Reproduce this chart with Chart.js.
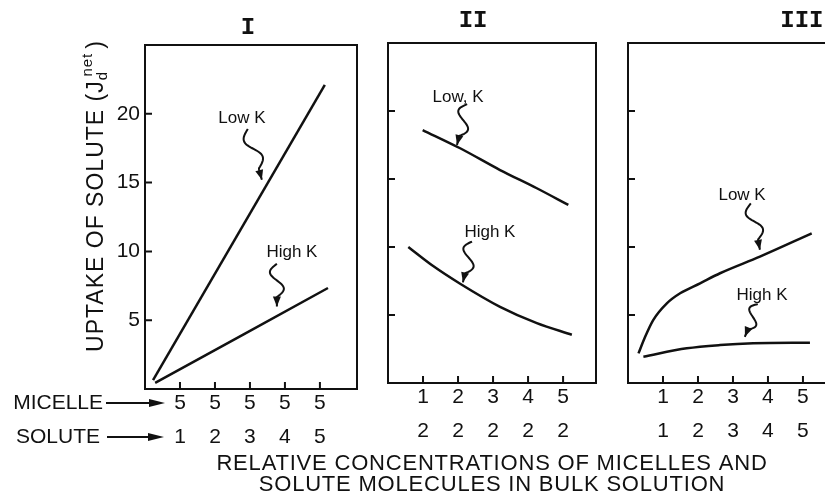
<!DOCTYPE html>
<html>
<head>
<meta charset="utf-8">
<script src="https://cdn.jsdelivr.net/npm/chart.js@4.4.1/dist/chart.umd.min.js"></script>
<style>
  html, body { margin: 0; padding: 0; background: #fff; }
  #wrap { position: relative; width: 825px; height: 495px; overflow: hidden; }
  #wrap canvas { position: absolute; left: 0; top: 0; }
</style>
</head>
<body>
<div id="wrap">
  <canvas id="panel1" width="825" height="495"></canvas>
  <canvas id="panel2" width="825" height="495"></canvas>
  <canvas id="panel3" width="825" height="495"></canvas>
</div>
<script>
// tick positions
const ticksX = [1, 2, 3, 4, 5];
const ticksY = [5, 10, 15, 20];

// two rows of x labels under each panel: micelle (top), solute (bottom)
const micelle1 = [5, 5, 5, 5, 5];
const solute1 = [1, 2, 3, 4, 5];
const micelle2 = [1, 2, 3, 4, 5];
const solute2 = [2, 2, 2, 2, 2];
const micelle3 = [1, 2, 3, 4, 5];
const solute3 = [1, 2, 3, 4, 5];

// panel I
const lowK1x = [0.23, 5.14];
const lowK1y = [0.65, 22.1];
const highK1x = [0.29, 5.23];
const highK1y = [0.44, 7.34];
// panel II
const lowK2x = [0.99, 2.06, 3.2, 4.25, 5.15];
const lowK2y = [18.6, 17.26, 15.66, 14.32, 13.09];
const highK2x = [0.58, 1.29, 2.06, 3.2, 4.25, 5.25];
const highK2y = [10.0, 8.6, 7.3, 5.6, 4.4, 3.55];
// panel III
const lowK3x = [0.30, 0.49, 0.72, 1.11, 1.49, 2.06, 2.63, 3.77, 5.25];
const lowK3y = [2.18, 3.40, 4.63, 5.86, 6.60, 7.33, 8.07, 9.29, 11.0];
const highK3x = [0.44, 1.68, 2.63, 3.58, 5.2];
const highK3y = [1.93, 2.55, 2.79, 2.92, 2.96];

// "Low K" / "High K" notes: label centre and squiggly arrow, in data units
const notes1 = [
  { text: 'Low K', x: 2.77, y: 19.7, from: [2.94, 18.9], to: [3.34, 15.2] },
  { text: 'High K', x: 4.2, y: 9.9, from: [3.77, 9.1], to: [3.77, 6.0] }
];
const notes2 = [
  { text: 'Low, K', x: 2.0, y: 21.0, from: [2.26, 20.5], to: [1.97, 17.5] },
  { text: 'High K', x: 2.91, y: 11.1, from: [2.4, 10.4], to: [2.14, 7.4] }
];
const notes3 = [
  { text: 'Low K', x: 3.26, y: 13.8, from: [3.51, 13.2], to: [3.77, 9.8] },
  { text: 'High K', x: 3.83, y: 6.47, from: [3.71, 5.8], to: [3.34, 3.4] }
];

const INK = '#111';
const SANS = '"Liberation Sans", Arial, sans-serif';
const TICK_PAD = -3;
const ROW_LH = 1.62;
const Y_BOX = 50;

function pts(xs, ys) {
  return xs.map((x, i) => ({ x: x, y: ys[i] }));
}

function squiggle(ctx, x1, y1, x2, y2) {
  const dx = x2 - x1, dy = y2 - y1, L = Math.hypot(dx, dy);
  const ux = dx / L, uy = dy / L, nx = -uy, ny = ux;
  const amp = Math.min(7, L * 0.18);
  ctx.beginPath();
  for (let i = 0; i <= 40; i++) {
    const t = i / 40;
    const w = t < 0.78 ? Math.sin(2 * Math.PI * t / 0.78) * amp : 0;
    const px = x1 + dx * t + nx * w, py = y1 + dy * t + ny * w;
    if (i) ctx.lineTo(px, py); else ctx.moveTo(px, py);
  }
  ctx.stroke();
  const hl = 10, hw = 4;
  ctx.beginPath();
  ctx.moveTo(x2, y2);
  ctx.lineTo(x2 - ux * hl + nx * hw, y2 - uy * hl + ny * hw);
  ctx.lineTo(x2 - ux * hl - nx * hw, y2 - uy * hl - ny * hw);
  ctx.closePath();
  ctx.fill();
}

function arrowRight(ctx, x1, x2, y) {
  ctx.beginPath();
  ctx.moveTo(x1, y);
  ctx.lineTo(x2 - 8, y);
  ctx.stroke();
  ctx.beginPath();
  ctx.moveTo(x2, y);
  ctx.lineTo(x2 - 16, y - 4);
  ctx.lineTo(x2 - 16, y + 4);
  ctx.closePath();
  ctx.fill();
}

function drawYTitle(ctx, cx, cy) {
  const big = '23px ' + SANS, small = '15px ' + SANS;
  ctx.save();
  ctx.translate(cx, cy);
  ctx.rotate(-Math.PI / 2);
  ctx.textAlign = 'left';
  ctx.textBaseline = 'middle';
  ctx.letterSpacing = '1px';
  ctx.font = big;
  const main = 'UPTAKE OF SOLUTE (J';
  const wMain = ctx.measureText(main).width;
  const wClose = ctx.measureText(')').width;
  ctx.font = small;
  const wD = ctx.measureText('d').width;
  const wNet = ctx.measureText('net').width;
  const total = wMain + wD * 0.4 + wNet + 4 + wClose;
  let x = -total / 2;
  ctx.font = big;
  ctx.fillText(main, x, 0);
  x += wMain;
  ctx.font = small;
  ctx.fillText('d', x, 6);
  ctx.fillText('net', x + wD * 0.4, -9);
  x += wD * 0.4 + wNet + 4;
  ctx.font = big;
  ctx.fillText(')', x, 0);
  ctx.restore();
}

function decor(cfg) {
  return {
    id: 'decor',
    afterDraw(chart) {
      const ctx = chart.ctx, a = chart.chartArea;
      const xs = chart.scales.x, ys = chart.scales.y;
      ctx.save();
      ctx.strokeStyle = INK;
      ctx.fillStyle = INK;
      ctx.lineWidth = 2;
      // frame
      ctx.beginPath();
      if (cfg.openRight) {
        ctx.moveTo(a.right + 2, a.top);
        ctx.lineTo(a.left, a.top);
        ctx.lineTo(a.left, a.bottom);
        ctx.lineTo(a.right + 2, a.bottom);
      } else {
        ctx.rect(a.left, a.top, a.right - a.left, a.bottom - a.top);
      }
      ctx.stroke();
      // inward tick marks
      ctx.beginPath();
      xs.ticks.forEach(t => {
        const px = xs.getPixelForValue(t.value);
        ctx.moveTo(px, a.bottom);
        ctx.lineTo(px, a.bottom - 7);
      });
      ys.ticks.forEach(t => {
        const py = ys.getPixelForValue(t.value);
        ctx.moveTo(a.left, py);
        ctx.lineTo(a.left + 7, py);
      });
      ctx.stroke();
      // panel numeral
      ctx.font = 'bold 24px "Liberation Mono", monospace';
      ctx.textAlign = 'center';
      ctx.textBaseline = 'middle';
      ctx.fillText(cfg.title, xs.getPixelForValue(cfg.titleX), a.top - cfg.titleDy);
      // notes
      ctx.font = '17px ' + SANS;
      cfg.notes.forEach(n => {
        ctx.fillText(n.text, xs.getPixelForValue(n.x), ys.getPixelForValue(n.y));
        squiggle(ctx, xs.getPixelForValue(n.from[0]), ys.getPixelForValue(n.from[1]),
          xs.getPixelForValue(n.to[0]), ys.getPixelForValue(n.to[1]));
      });
      if (cfg.rowLabels) {
        const lh = 21 * ROW_LH;
        const r1 = a.bottom + TICK_PAD + lh / 2, r2 = r1 + lh;
        ctx.font = '21px ' + SANS;
        ctx.textAlign = 'right';
        ctx.fillText('MICELLE', 103, r1);
        ctx.fillText('SOLUTE', 100, r2);
        ctx.lineWidth = 2;
        arrowRight(ctx, 106, 165, r1);
        arrowRight(ctx, 107, 164, r2);
        drawYTitle(ctx, 97, 196);
      }
      if (cfg.xTitle) {
        ctx.font = '22px ' + SANS;
        ctx.textAlign = 'center';
        ctx.letterSpacing = '0.8px';
        const cx = (a.left + a.right) / 2;
        ctx.fillText('RELATIVE CONCENTRATIONS OF MICELLES AND', cx, a.bottom + 81);
        ctx.fillText('SOLUTE MOLECULES IN BULK SOLUTION', cx, a.bottom + 102);
      }
      ctx.restore();
    }
  };
}

function makePanel(id, area, xMax, micelle, solute, series, showY, cfg) {
  return new Chart(document.getElementById(id), {
    type: 'line',
    data: {
      datasets: series.map(s => ({
        data: s,
        borderColor: INK,
        borderWidth: 2.5,
        pointRadius: 0,
        tension: 0.4,
        cubicInterpolationMode: 'monotone',
        fill: false
      }))
    },
    options: {
      responsive: false,
      animation: false,
      layout: {
        padding: { left: area.left - Y_BOX, top: area.top, right: 825 - area.right, bottom: 0 }
      },
      plugins: { legend: { display: false }, tooltip: { enabled: false }, title: { display: false } },
      scales: {
        x: {
          type: 'linear',
          min: 0,
          max: xMax,
          afterBuildTicks: s => { s.ticks = ticksX.map(v => ({ value: v })); },
          afterFit: s => { s.height = 495 - area.bottom; },
          grid: { display: false, drawTicks: false },
          border: { display: false },
          ticks: {
            autoSkip: false,
            maxRotation: 0,
            padding: TICK_PAD,
            color: INK,
            font: { family: SANS, size: 21, lineHeight: ROW_LH },
            callback: v => {
              const i = ticksX.indexOf(v);
              return [String(micelle[i]), String(solute[i])];
            }
          }
        },
        y: {
          type: 'linear',
          min: 0,
          max: 25,
          afterBuildTicks: s => { s.ticks = ticksY.map(v => ({ value: v })); },
          afterFit: s => { s.width = Y_BOX; },
          grid: { display: false, drawTicks: false },
          border: { display: false },
          ticks: {
            display: showY,
            padding: 5,
            color: INK,
            font: { family: SANS, size: 21 }
          }
        }
      }
    },
    plugins: [decor(cfg)]
  });
}

makePanel('panel1', { left: 145, top: 45, right: 357, bottom: 389 }, 6.06, micelle1, solute1,
  [pts(lowK1x, lowK1y), pts(highK1x, highK1y)], true,
  { title: 'I', titleX: 2.94, titleDy: 17, notes: notes1, rowLabels: true });

makePanel('panel2', { left: 388, top: 43, right: 596, bottom: 383 }, 5.94, micelle2, solute2,
  [pts(lowK2x, lowK2y), pts(highK2x, highK2y)], false,
  { title: 'II', titleX: 2.43, titleDy: 22, notes: notes2, xTitle: true });

makePanel('panel3', { left: 628, top: 43, right: 825, bottom: 383 }, 5.63, micelle3, solute3,
  [pts(lowK3x, lowK3y), pts(highK3x, highK3y)], false,
  { title: 'III', titleX: 4.97, titleDy: 22, notes: notes3, openRight: true });
</script>
</body>
</html>
